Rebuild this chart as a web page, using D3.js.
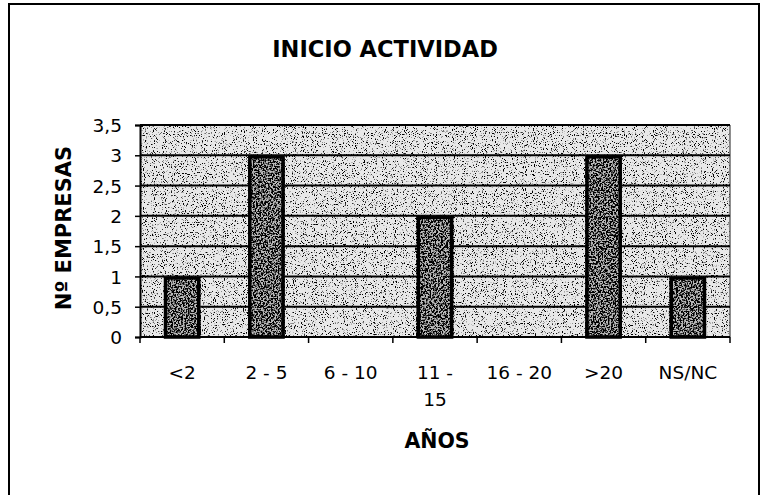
<!DOCTYPE html>
<html>
<head>
<meta charset="utf-8">
<script src="https://cdn.jsdelivr.net/npm/d3@7"></script>
<style>
  html, body { margin: 0; padding: 0; background: #ffffff; }
  svg { display: block; }
  text { font-family: "DejaVu Sans", sans-serif; fill: #000; }
</style>
</head>
<body>
<svg id="chart" width="764" height="495"></svg>
<script>
// ---- data ----
const categories = ["<2", "2 - 5", "6 - 10", "11 - 15", "16 - 20", ">20", "NS/NC"];
const values = [1, 3, 0, 2, 0, 3, 1];
const yTicks = [0, 0.5, 1, 1.5, 2, 2.5, 3, 3.5];
const yTickLabels = ["0", "0,5", "1", "1,5", "2", "2,5", "3", "3,5"];
const xTickLabelLines = [["<2"], ["2 - 5"], ["6 - 10"], ["11 -", "15"], ["16 - 20"], [">20"], ["NS/NC"]];
const title = "INICIO ACTIVIDAD";
const xTitle = "AÑOS";
const yTitle = "Nº EMPRESAS";

// ---- layout ----
const svg = d3.select("#chart");
const plot = { left: 140, right: 730, top: 125, bottom: 337 };

const x = d3.scaleBand().domain(categories)
  .range([plot.left, plot.right]).paddingInner(0.57).paddingOuter(0.285);
const y = d3.scaleLinear().domain([0, 3.5]).range([plot.bottom, plot.top]);

// ---- textures ----
const defs = svg.append("defs");
function speckle(id, freq, a, b, seed) {
  const f = defs.append("filter").attr("id", id)
    .attr("x", 0).attr("y", 0).attr("width", "100%").attr("height", "100%")
    .attr("filterUnits", "objectBoundingBox");
  f.append("feTurbulence").attr("type", "fractalNoise")
    .attr("baseFrequency", freq).attr("numOctaves", 2).attr("seed", seed).attr("result", "n");
  f.append("feColorMatrix").attr("in", "n").attr("type", "matrix")
    .attr("values", `0 0 0 0 0  0 0 0 0 0  0 0 0 0 0  ${a} 0 0 0 ${b}`);
}
speckle("bgSpeckle", 0.9, 9, -5.3, 4);
speckle("barSpeckle", 0.6, 7, -3.0, 9);

// ---- outer frame ----
svg.append("rect").attr("x", 9).attr("y", 4).attr("width", 750).attr("height", 510)
  .attr("fill", "none").attr("stroke", "#000").attr("stroke-width", 2);

// ---- title ----
svg.append("text").attr("x", 385).attr("y", 57).attr("text-anchor", "middle")
  .style("font-weight", "bold").style("font-size", "22.5px").text(title);

// ---- plot background ----
svg.append("rect").attr("x", plot.left).attr("y", plot.top)
  .attr("width", plot.right - plot.left).attr("height", plot.bottom - plot.top)
  .attr("fill", "#e8e8e8");
svg.append("rect").attr("x", plot.left).attr("y", plot.top)
  .attr("width", plot.right - plot.left).attr("height", plot.bottom - plot.top)
  .attr("fill", "#000").attr("filter", "url(#bgSpeckle)");
svg.append("line").attr("x1", plot.right).attr("x2", plot.right)
  .attr("y1", plot.top).attr("y2", plot.bottom).attr("stroke", "#444").attr("stroke-width", 1.2);

// ---- gridlines ----
svg.append("g").selectAll("line").data(yTicks.filter(d => d > 0)).join("line")
  .attr("x1", plot.left).attr("x2", plot.right)
  .attr("y1", d => y(d)).attr("y2", d => y(d))
  .attr("stroke", "#000").attr("stroke-width", 2);

// ---- bars ----
const bars = svg.append("g");
const barData = categories.map((c, i) => ({ c, v: values[i] })).filter(d => d.v > 0);
bars.selectAll("rect.base").data(barData).join("rect").attr("class", "base")
  .attr("x", d => x(d.c)).attr("width", x.bandwidth())
  .attr("y", d => y(d.v)).attr("height", d => y(0) - y(d.v))
  .attr("fill", "#b8b8b8");
bars.selectAll("rect.tex").data(barData).join("rect").attr("class", "tex")
  .attr("x", d => x(d.c)).attr("width", x.bandwidth())
  .attr("y", d => y(d.v)).attr("height", d => y(0) - y(d.v))
  .attr("fill", "#000").attr("filter", "url(#barSpeckle)");
bars.selectAll("rect.border").data(barData).join("rect").attr("class", "border")
  .attr("x", d => x(d.c) + 1.5).attr("width", x.bandwidth() - 3)
  .attr("y", d => y(d.v) + 1.5).attr("height", d => y(0) - y(d.v) - 1.5)
  .attr("fill", "none").attr("stroke", "#000").attr("stroke-width", 3.5);

// ---- y axis ----
const yAxis = svg.append("g").attr("transform", `translate(${plot.left},0)`)
  .call(d3.axisLeft(y).tickValues(yTicks).tickSize(5).tickPadding(13)
    .tickFormat((d, i) => yTickLabels[i]));
yAxis.select(".domain").attr("stroke", "#000").attr("stroke-width", 2);
yAxis.selectAll(".tick line").attr("stroke", "#000").attr("stroke-width", 1.5);
yAxis.selectAll(".tick text").style("font-size", "18.5px").attr("dy", "0.36em")
  .style("font-family", "'DejaVu Sans', sans-serif");

// ---- x axis ----
const step = x.step();
const boundaries = d3.range(categories.length + 1).map(i => plot.left + i * step);
svg.append("line").attr("x1", plot.left).attr("x2", plot.right)
  .attr("y1", plot.bottom).attr("y2", plot.bottom).attr("stroke", "#000").attr("stroke-width", 2);
svg.append("g").selectAll("line").data(boundaries).join("line")
  .attr("x1", d => d).attr("x2", d => d)
  .attr("y1", plot.bottom).attr("y2", plot.bottom + 6)
  .attr("stroke", "#000").attr("stroke-width", 1.5);
const xl = svg.append("g").selectAll("text").data(categories).join("text")
  .attr("x", d => x(d) + x.bandwidth() / 2)
  .attr("y", 379).attr("text-anchor", "middle").style("font-size", "18.5px");
xl.each(function (d, i) {
  const t = d3.select(this);
  xTickLabelLines[i].forEach((line, k) => {
    t.append("tspan").attr("x", x(d) + x.bandwidth() / 2).attr("dy", k === 0 ? 0 : 26.5).text(line);
  });
});

// ---- axis titles ----
svg.append("text").attr("x", 437).attr("y", 448).attr("text-anchor", "middle")
  .style("font-weight", "bold").style("font-size", "20.5px").text(xTitle);
svg.append("text").attr("transform", "translate(71,228) rotate(-90)")
  .attr("text-anchor", "middle").style("font-weight", "bold").style("font-size", "21px").text(yTitle);
</script>
</body>
</html>
